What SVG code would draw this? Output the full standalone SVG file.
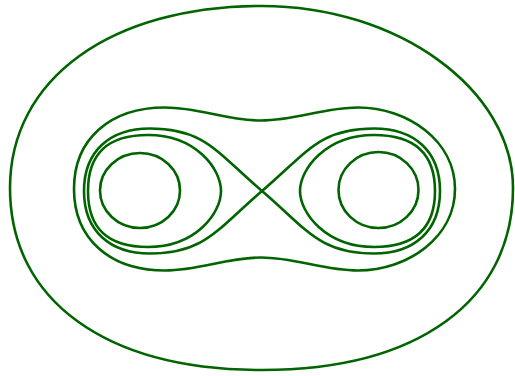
<svg xmlns="http://www.w3.org/2000/svg" width="515" height="376" viewBox="0 0 515 376">
<style>
.c{fill:none;stroke:#006400;stroke-width:2.6;stroke-linejoin:round;stroke-linecap:round}
</style>
<rect width="515" height="376" fill="#ffffff"/>
<g id="outer-orbit">
<path class="c" d="M10,188 C10,78.8 111,6 262,6 C397.8,6 513,89.7 513,188 C513,300.8 418,370 262,370 C106,370 10,300.8 10,188 Z"/>
</g>
<g id="peanut-orbit">
<path class="c" d="M74,189 C74,139 110,107.5 165,107.5 C200,107.5 226,120.5 261,120.5 C296,120.5 323,107.5 358,107.5 C408,107.5 455,141 455,189 C455,237 408,270.5 358,270.5 C323,270.5 296,257.5 261,257.5 C226,257.5 200,270.5 165,270.5 C110,270.5 74,239 74,189 Z"/>
</g>
<g id="separatrix">
<path class="c" d="M262,191 C217,152.75 205,128.5 150,128.5 C110,128.5 84,151 84,191 C84,231 110,253.5 150,253.5 C205,253.5 217,229.25 262,191 C307,152.75 319,128.5 374,128.5 C414,128.5 440,151 440,191 C440,231 414,253.5 374,253.5 C319,253.5 307,229.25 262,191 Z"/>
</g>
<g id="left-orbit">
<path class="c" d="M221,191 C221,169 196,135 148,135 C108,135 88,153 88,191 C88,229 108,247 148,247 C196,247 221,213 221,191 Z"/>
</g>
<g id="right-orbit">
<path class="c" d="M300,191 C300,169 326,135 374,135 C414,135 435,153 435,191 C435,229 414,247 374,247 C326,247 300,213 300,191 Z"/>
</g>
<g id="left-center-orbit">
<ellipse class="c" cx="140" cy="190.5" rx="40" ry="37.5"/>
</g>
<g id="right-center-orbit">
<ellipse class="c" cx="378.5" cy="190" rx="40" ry="38"/>
</g>
</svg>
